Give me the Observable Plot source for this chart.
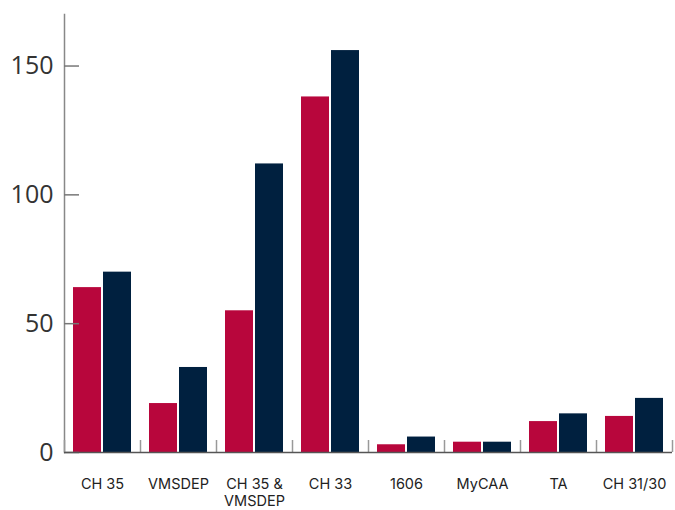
<!DOCTYPE html>
<html>
<head>
<meta charset="utf-8">
<script src="https://cdn.jsdelivr.net/npm/d3@7"></script>
<script src="https://cdn.jsdelivr.net/npm/@observablehq/plot@0.6"></script>
<style>
  html, body { margin: 0; padding: 0; background: #fff; }
</style>
</head>
<body>
<div id="chart"></div>
<script>
const categories = ["CH 35", "VMSDEP", "CH 35 & VMSDEP", "CH 33", "1606", "MyCAA", "TA", "CH 31/30"];
const seriesA = [64, 19, 55, 138, 3, 4, 12, 14];
const seriesB = [70, 33, 112, 156, 6, 4, 15, 21];
const yTicks = [0, 50, 100, 150];

const red = "#B8063C";
const navy = "#00203F";

const dataA = categories.map((c, i) => ({cat: c, value: seriesA[i]}));
const dataB = categories.map((c, i) => ({cat: c, value: seriesB[i]}));

const chart = Plot.plot({
  width: 675,
  height: 510,
  marginLeft: 64,
  marginRight: 3,
  marginTop: 14,
  marginBottom: 58,
  x: {domain: categories, padding: 0},
  y: {domain: [0, 170]},
  marks: [
    Plot.barY(dataA, {x: "cat", y: "value", fill: red, insetLeft: 9, insetRight: 39}),
    Plot.barY(dataB, {x: "cat", y: "value", fill: navy, insetLeft: 39, insetRight: 9}),
    Plot.frame({anchor: "left", stroke: "#888", strokeWidth: 1.5}),
    Plot.tickY(yTicks, {y: d => d, x: () => categories[0], insetRight: 61, stroke: "#777", strokeWidth: 1.5}),
    Plot.tickX(categories, {x: d => d, dx: -38, insetTop: 426, stroke: "#999", strokeWidth: 1.5}),
    Plot.tickX([categories[categories.length - 1]], {x: d => d, dx: 38, insetTop: 426, stroke: "#999", strokeWidth: 1.5}),
    Plot.ruleY([0], {stroke: "#555", strokeWidth: 1.5}),
    Plot.axisY({ticks: yTicks, tickSize: 0, tickPadding: 11, fontSize: 25, fontFamily: "Open Sans", fill: "#333", label: null}),
    Plot.axisX({tickSize: 0, tickPadding: 25, fontSize: 14.5, lineHeight: 1.15, fontFamily: "Inter", fill: "#222", label: null,
      tickFormat: d => d.replace(" & ", " &\n")})
  ]
});
document.getElementById("chart").appendChild(chart);
</script>
</body>
</html>
